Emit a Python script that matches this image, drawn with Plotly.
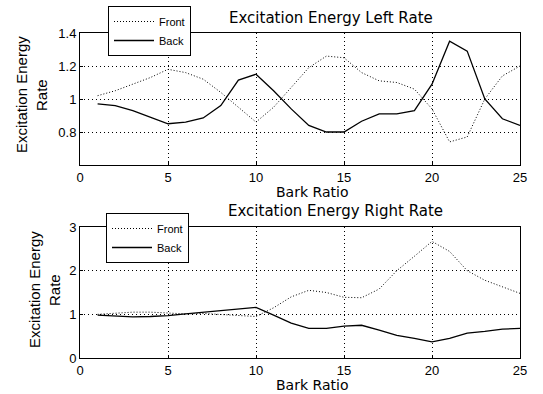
import plotly.graph_objects as go

bark = list(range(1, 26))

left_front = [1.02, 1.05, 1.09, 1.13, 1.18, 1.16, 1.12, 1.04, 0.95, 0.86,
              0.95, 1.07, 1.19, 1.26, 1.25, 1.16, 1.11, 1.10, 1.06, 0.94,
              0.74, 0.77, 1.00, 1.14, 1.20]
left_back = [0.97, 0.96, 0.93, 0.89, 0.85, 0.86, 0.885, 0.96, 1.115, 1.15,
             1.05, 0.94, 0.84, 0.80, 0.80, 0.865, 0.91, 0.91, 0.93, 1.09,
             1.35, 1.29, 1.00, 0.88, 0.84]

right_front = [1.00, 1.03, 1.05, 1.05, 1.03, 1.01, 1.02, 1.00, 0.98, 0.95,
               1.15, 1.40, 1.55, 1.50, 1.39, 1.38, 1.58, 2.00, 2.33, 2.67,
               2.44, 2.00, 1.78, 1.63, 1.48]
right_back = [0.98, 0.96, 0.94, 0.95, 0.97, 1.01, 1.05, 1.08, 1.12, 1.16,
              0.98, 0.80, 0.68, 0.68, 0.73, 0.75, 0.64, 0.52, 0.45, 0.37,
              0.45, 0.57, 0.61, 0.66, 0.68]

FONT = "Liberation Sans, Arial, sans-serif"
WIDE = "DejaVu Sans, Liberation Sans, sans-serif"
W, H = 543, 394

def px(x):
    return x / W

def py(y):
    return 1 - y / H

DOT = "1px,2px"
fig = go.Figure()
fig.add_trace(go.Scatter(x=bark, y=left_front, mode="lines", name="Front",
                         line=dict(color="black", width=1, dash=DOT),
                         xaxis="x", yaxis="y", legend="legend"))
fig.add_trace(go.Scatter(x=bark, y=left_back, mode="lines", name="Back",
                         line=dict(color="black", width=1.3),
                         xaxis="x", yaxis="y", legend="legend"))
fig.add_trace(go.Scatter(x=bark, y=right_front, mode="lines", name="Front",
                         line=dict(color="black", width=1, dash=DOT),
                         xaxis="x2", yaxis="y2", legend="legend2"))
fig.add_trace(go.Scatter(x=bark, y=right_back, mode="lines", name="Back",
                         line=dict(color="black", width=1.3),
                         xaxis="x2", yaxis="y2", legend="legend2"))

axis_common = dict(showline=True, linecolor="black", linewidth=1, mirror=True,
                   showgrid=True, gridcolor="black", gridwidth=1,
                   griddash="1px,3px", automargin=False,
                   zeroline=False, ticks="inside", ticklen=3, tickcolor="black",
                   tickfont=dict(family=FONT, size=13, color="black"))

xd = [px(80), px(520)]
leg_common = dict(xanchor="left", yanchor="top",
                  bgcolor="white", bordercolor="black", borderwidth=1,
                  font=dict(family=FONT, size=11, color="black"),
                  tracegroupgap=0, itemwidth=40)
fig.update_layout(
    width=W, height=H, margin=dict(l=0, r=0, t=0, b=0),
    paper_bgcolor="white", plot_bgcolor="white",
    font=dict(family=FONT, color="black"),
    xaxis=dict(domain=xd, range=[0, 25], tickvals=[0, 5, 10, 15, 20, 25],
               anchor="y", **axis_common),
    yaxis=dict(domain=[py(165), py(33)], range=[0.6, 1.4],
               tickvals=[0.8, 1.0, 1.2, 1.4], ticktext=["0.8", "1", "1.2", "1.4"],
               anchor="x", **axis_common),
    xaxis2=dict(domain=xd, range=[0, 25], tickvals=[0, 5, 10, 15, 20, 25],
                anchor="y2", **axis_common),
    yaxis2=dict(domain=[py(358), py(227)], range=[0, 3],
                tickvals=[0, 1, 2, 3], anchor="x2", **axis_common),
    legend=dict(x=px(108), y=py(6), **leg_common),
    legend2=dict(x=px(106), y=py(213), **leg_common),
    showlegend=True,
)

ann_font = dict(family=WIDE, size=15, color="black")
xl_font = dict(family=WIDE, size=14, color="black")
lab_font = dict(family=FONT, size=15, color="black")

def note(txt, xc, yc, font, angle=0):
    fig.add_annotation(text=txt, x=px(xc), y=py(yc), xref="paper", yref="paper",
                       xanchor="center", yanchor="middle", showarrow=False,
                       textangle=angle, font=font)

note("Excitation Energy Left Rate", 331, 18, ann_font)
note("Excitation Energy Right Rate", 335, 211, ann_font)
note("Bark Ratio", 312, 192, xl_font)
note("Bark Ratio", 312, 385, xl_font)
note("Excitation Energy", 21, 95, lab_font, -90)
note("Rate", 41, 95, lab_font, -90)
note("Excitation Energy", 34, 290, lab_font, -90)
note("Rate", 54, 290, lab_font, -90)

fig.write_html("out.html")
